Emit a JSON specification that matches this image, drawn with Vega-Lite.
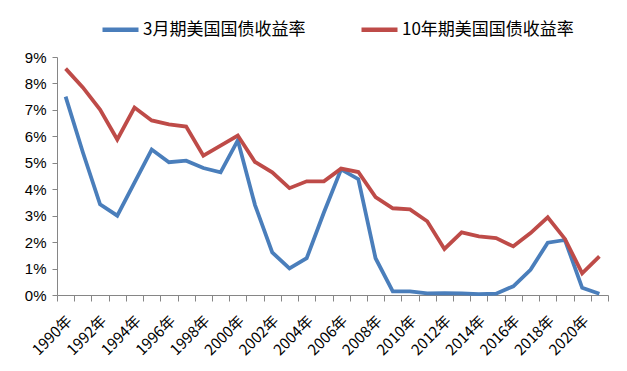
{
  "$schema": "https://vega.github.io/schema/vega-lite/v6.json",
  "width": 551,
  "height": 238,
  "autosize": {"type": "none"},
  "padding": {"left": 57, "top": 57, "right": 19, "bottom": 76},
  "background": "white",
  "data": {
    "values": [
      {"year": 1990, "series": "3月期美国国债收益率", "rate": 7.5},
      {"year": 1991, "series": "3月期美国国债收益率", "rate": 5.4},
      {"year": 1992, "series": "3月期美国国债收益率", "rate": 3.43},
      {"year": 1993, "series": "3月期美国国债收益率", "rate": 3.0},
      {"year": 1994, "series": "3月期美国国债收益率", "rate": 4.25},
      {"year": 1995, "series": "3月期美国国债收益率", "rate": 5.5},
      {"year": 1996, "series": "3月期美国国债收益率", "rate": 5.02},
      {"year": 1997, "series": "3月期美国国债收益率", "rate": 5.08},
      {"year": 1998, "series": "3月期美国国债收益率", "rate": 4.8},
      {"year": 1999, "series": "3月期美国国债收益率", "rate": 4.64},
      {"year": 2000, "series": "3月期美国国债收益率", "rate": 5.85},
      {"year": 2001, "series": "3月期美国国债收益率", "rate": 3.4},
      {"year": 2002, "series": "3月期美国国债收益率", "rate": 1.61},
      {"year": 2003, "series": "3月期美国国债收益率", "rate": 1.01},
      {"year": 2004, "series": "3月期美国国债收益率", "rate": 1.39},
      {"year": 2005, "series": "3月期美国国债收益率", "rate": 3.12},
      {"year": 2006, "series": "3月期美国国债收益率", "rate": 4.75},
      {"year": 2007, "series": "3月期美国国债收益率", "rate": 4.38},
      {"year": 2008, "series": "3月期美国国债收益率", "rate": 1.39},
      {"year": 2009, "series": "3月期美国国债收益率", "rate": 0.14},
      {"year": 2010, "series": "3月期美国国债收益率", "rate": 0.14},
      {"year": 2011, "series": "3月期美国国债收益率", "rate": 0.06},
      {"year": 2012, "series": "3月期美国国债收益率", "rate": 0.07},
      {"year": 2013, "series": "3月期美国国债收益率", "rate": 0.06},
      {"year": 2014, "series": "3月期美国国债收益率", "rate": 0.03},
      {"year": 2015, "series": "3月期美国国债收益率", "rate": 0.05},
      {"year": 2016, "series": "3月期美国国债收益率", "rate": 0.33},
      {"year": 2017, "series": "3月期美国国债收益率", "rate": 0.95},
      {"year": 2018, "series": "3月期美国国债收益率", "rate": 1.98},
      {"year": 2019, "series": "3月期美国国债收益率", "rate": 2.08},
      {"year": 2020, "series": "3月期美国国债收益率", "rate": 0.27},
      {"year": 2021, "series": "3月期美国国债收益率", "rate": 0.05},
      {"year": 1990, "series": "10年期美国国债收益率", "rate": 8.56},
      {"year": 1991, "series": "10年期美国国债收益率", "rate": 7.85},
      {"year": 1992, "series": "10年期美国国债收益率", "rate": 7.01},
      {"year": 1993, "series": "10年期美国国债收益率", "rate": 5.88},
      {"year": 1994, "series": "10年期美国国债收益率", "rate": 7.09},
      {"year": 1995, "series": "10年期美国国债收益率", "rate": 6.6},
      {"year": 1996, "series": "10年期美国国债收益率", "rate": 6.45},
      {"year": 1997, "series": "10年期美国国债收益率", "rate": 6.37},
      {"year": 1998, "series": "10年期美国国债收益率", "rate": 5.27},
      {"year": 1999, "series": "10年期美国国债收益率", "rate": 5.65},
      {"year": 2000, "series": "10年期美国国债收益率", "rate": 6.03},
      {"year": 2001, "series": "10年期美国国债收益率", "rate": 5.03},
      {"year": 2002, "series": "10年期美国国债收益率", "rate": 4.64},
      {"year": 2003, "series": "10年期美国国债收益率", "rate": 4.04},
      {"year": 2004, "series": "10年期美国国债收益率", "rate": 4.3},
      {"year": 2005, "series": "10年期美国国债收益率", "rate": 4.3},
      {"year": 2006, "series": "10年期美国国债收益率", "rate": 4.78},
      {"year": 2007, "series": "10年期美国国债收益率", "rate": 4.65},
      {"year": 2008, "series": "10年期美国国债收益率", "rate": 3.7},
      {"year": 2009, "series": "10年期美国国债收益率", "rate": 3.28},
      {"year": 2010, "series": "10年期美国国债收益率", "rate": 3.24},
      {"year": 2011, "series": "10年期美国国债收益率", "rate": 2.79},
      {"year": 2012, "series": "10年期美国国债收益率", "rate": 1.74},
      {"year": 2013, "series": "10年期美国国债收益率", "rate": 2.37},
      {"year": 2014, "series": "10年期美国国债收益率", "rate": 2.22},
      {"year": 2015, "series": "10年期美国国债收益率", "rate": 2.15},
      {"year": 2016, "series": "10年期美国国债收益率", "rate": 1.84},
      {"year": 2017, "series": "10年期美国国债收益率", "rate": 2.34},
      {"year": 2018, "series": "10年期美国国债收益率", "rate": 2.94},
      {"year": 2019, "series": "10年期美国国债收益率", "rate": 2.12},
      {"year": 2020, "series": "10年期美国国债收益率", "rate": 0.82},
      {"year": 2021, "series": "10年期美国国债收益率", "rate": 1.46}
    ]
  },
  "mark": {"type": "line", "strokeWidth": 3.8},
  "encoding": {
    "x": {
      "field": "year",
      "type": "quantitative",
      "scale": {"domain": [1989.5, 2021.5], "nice": false, "zero": false},
      "axis": {
        "values": [1989.5, 1990.5, 1991.5, 1992.5, 1993.5, 1994.5, 1995.5, 1996.5, 1997.5, 1998.5, 1999.5, 2000.5, 2001.5, 2002.5, 2003.5, 2004.5, 2005.5, 2006.5, 2007.5, 2008.5, 2009.5, 2010.5, 2011.5, 2012.5, 2013.5, 2014.5, 2015.5, 2016.5, 2017.5, 2018.5, 2019.5, 2020.5, 2021.5],
        "labelExpr": "((datum.value + 0.5) % 2 == 0 && datum.value < 2021) ? (datum.value + 0.5) + '年' : ''",
        "title": null,
        "grid": false,
        "labelAngle": -45,
        "labelAlign": "right",
        "labelBaseline": "top",
        "labelOffset": 7,
        "labelPadding": 12,
        "labelOverlap": false,
        "labelBound": false,
        "labelFlush": false,
        "labelFont": "Noto Sans CJK SC",
        "labelFontSize": 15,
        "labelColor": "#000000",
        "tickSize": 6,
        "tickColor": "#868686",
        "domainColor": "#868686"
      }
    },
    "y": {
      "field": "rate",
      "type": "quantitative",
      "scale": {"domain": [0, 9], "nice": false},
      "axis": {
        "values": [0, 1, 2, 3, 4, 5, 6, 7, 8, 9],
        "labelExpr": "datum.value + '%'",
        "title": null,
        "grid": false,
        "tickSize": 5,
        "tickColor": "#868686",
        "domainColor": "#868686",
        "labelFont": "Liberation Sans",
        "labelFontSize": 15,
        "labelColor": "#000000",
        "labelPadding": 6
      }
    },
    "color": {
      "field": "series",
      "type": "nominal",
      "sort": null,
      "scale": {"domain": ["3月期美国国债收益率", "10年期美国国债收益率"], "range": ["#4a7ebb", "#be4b48"]},
      "legend": {
        "orient": "none",
        "legendX": 43,
        "legendY": -48,
        "direction": "horizontal",
        "title": null,
        "symbolType": "stroke",
        "symbolSize": 1296,
        "symbolStrokeWidth": 4.5,
        "labelFont": "Noto Sans CJK SC",
        "labelFontSize": 17,
        "labelColor": "#000000",
        "labelOffset": 2,
        "labelLimit": 300,
        "columnPadding": 46
      }
    }
  },
  "config": {"view": {"stroke": null}}
}
